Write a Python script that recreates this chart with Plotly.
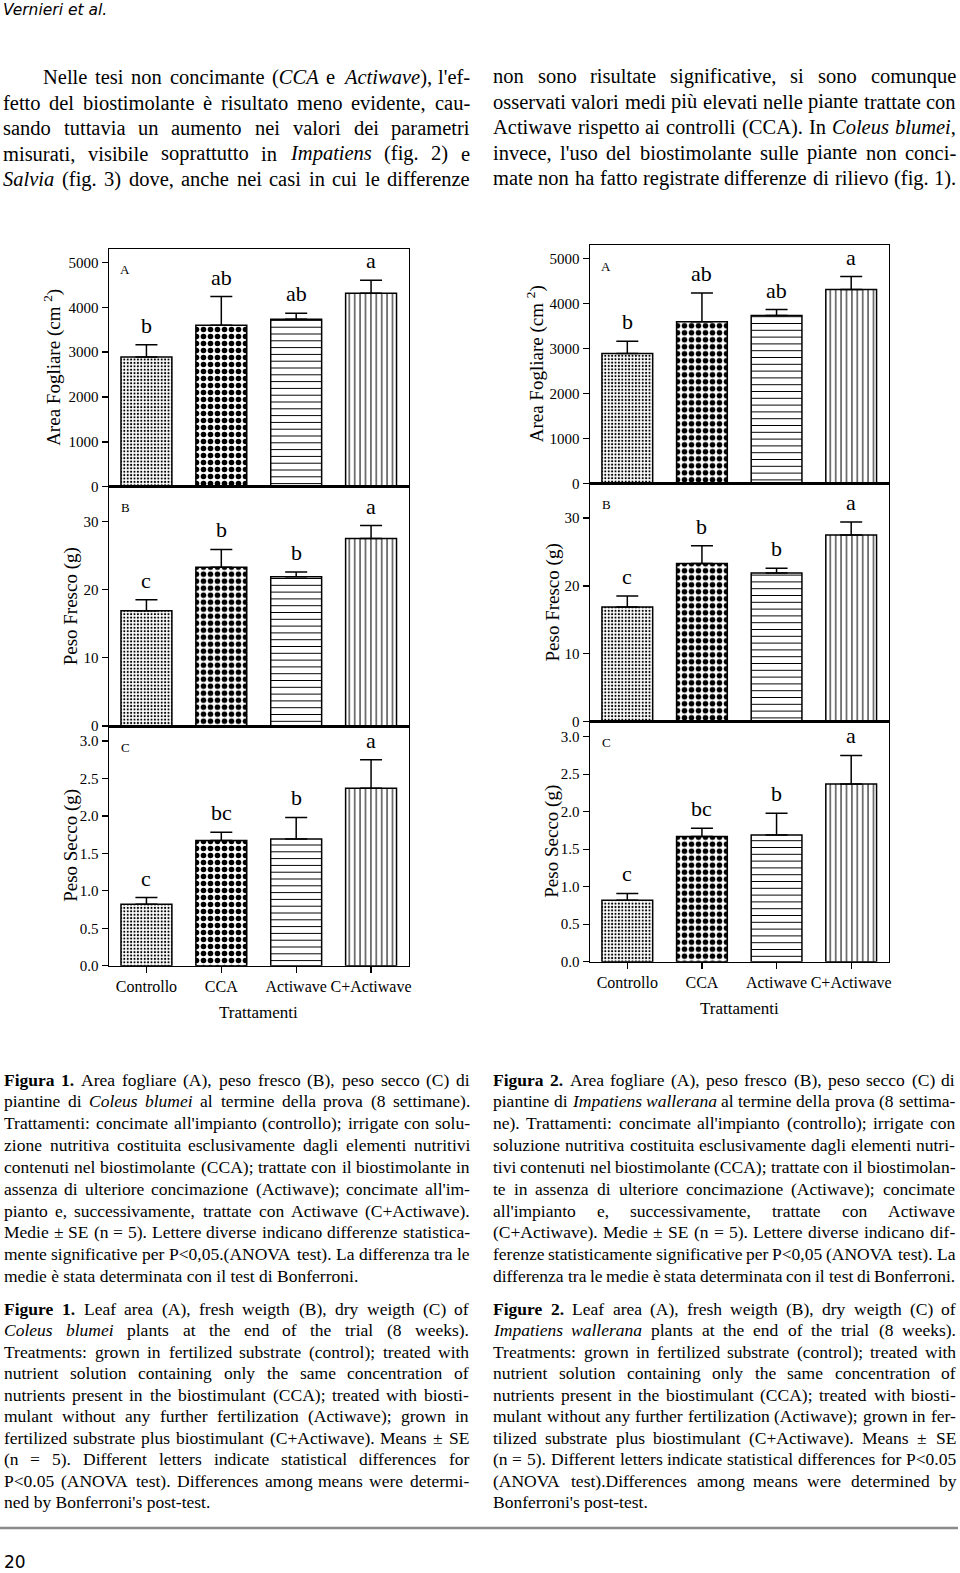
import plotly.graph_objects as go

W, H = 960, 1573

# ---------------- data ----------------
categories = ["Controllo", "CCA", "Actiwave", "C+Actiwave"]
leaf_area = [2890, 3600, 3735, 4315]
leaf_area_se = [275, 640, 135, 290]
fresh_weight = [16.9, 23.3, 21.9, 27.5]
fresh_weight_se = [1.6, 2.6, 0.7, 1.9]
dry_weight = [0.82, 1.67, 1.69, 2.37]
dry_weight_se = [0.09, 0.11, 0.29, 0.38]
letters_A = ["b", "ab", "ab", "a"]
letters_B = ["c", "b", "b", "a"]
letters_C = ["c", "bc", "b", "a"]
ticks_A = [0, 1000, 2000, 3000, 4000, 5000]
ticks_B = [0, 10, 20, 30]
ticks_C = [0.0, 0.5, 1.0, 1.5, 2.0, 2.5, 3.0]

header_text = "Vernieri et al."
page_number = "20"

para_left = [
    "Nelle tesi non concimante (<i>CCA</i> e <i>Actiwave</i>), l'ef-",
    "fetto del biostimolante è risultato meno evidente, cau-",
    "sando tuttavia un aumento nei valori dei parametri",
    "misurati, visibile soprattutto in <i>Impatiens</i> (fig. 2) e",
    "<i>Salvia</i> (fig. 3) dove, anche nei casi in cui le differenze",
]
para_right = [
    "non sono risultate significative, si sono comunque",
    "osservati valori medi più elevati nelle piante trattate con",
    "Actiwave rispetto ai controlli (CCA). In <i>Coleus blumei</i>,",
    "invece, l'uso del biostimolante sulle piante non conci-",
    "mate non ha fatto registrate differenze di rilievo (fig. 1).",
]
cap1_it = [
    "<b>Figura 1.</b> Area fogliare (A), peso fresco (B), peso secco (C) di",
    "piantine di <i>Coleus blumei</i> al termine della prova (8 settimane).",
    "Trattamenti: concimate all'impianto (controllo); irrigate con solu-",
    "zione nutritiva costituita esclusivamente dagli elementi nutritivi",
    "contenuti nel biostimolante (CCA); trattate con il biostimolante in",
    "assenza di ulteriore concimazione (Actiwave); concimate all'im-",
    "pianto e, successivamente, trattate con Actiwave (C+Actiwave).",
    "Medie ± SE (n = 5). Lettere diverse indicano differenze statistica-",
    "mente significative per P<0,05.(ANOVA test). La differenza tra le",
    "medie è stata determinata con il test di Bonferroni.",
]
cap1_en = [
    "<b>Figure 1.</b> Leaf area (A), fresh weigth (B), dry weigth (C) of",
    "<i>Coleus blumei</i> plants at the end of the trial (8 weeks).",
    "Treatments: grown in fertilized substrate (control); treated with",
    "nutrient solution containing only the same concentration of",
    "nutrients present in the biostimulant (CCA); treated with biosti-",
    "mulant without any further fertilization (Actiwave); grown in",
    "fertilized substrate plus biostimulant (C+Actiwave). Means ± SE",
    "(n = 5). Different letters indicate statistical differences for",
    "P<0.05 (ANOVA test). Differences among means were determi-",
    "ned by Bonferroni's post-test.",
]
cap2_it = [
    "<b>Figura 2.</b> Area fogliare (A), peso fresco (B), peso secco (C) di",
    "piantine di <i>Impatiens wallerana</i> al termine della prova (8 settima-",
    "ne). Trattamenti: concimate all'impianto (controllo); irrigate con",
    "soluzione nutritiva costituita esclusivamente dagli elementi nutri-",
    "tivi contenuti nel biostimolante (CCA); trattate con il biostimolan-",
    "te in assenza di ulteriore concimazione (Actiwave); concimate",
    "all'impianto e, successivamente, trattate con Actiwave",
    "(C+Actiwave). Medie ± SE (n = 5). Lettere diverse indicano dif-",
    "ferenze statisticamente significative per P<0,05 (ANOVA test). La",
    "differenza tra le medie è stata determinata con il test di Bonferroni.",
]
cap2_en = [
    "<b>Figure 2.</b> Leaf area (A), fresh weigth (B), dry weigth (C) of",
    "<i>Impatiens wallerana</i> plants at the end of the trial (8 weeks).",
    "Treatments: grown in fertilized substrate (control); treated with",
    "nutrient solution containing only the same concentration of",
    "nutrients present in the biostimulant (CCA); treated with biosti-",
    "mulant without any further fertilization (Actiwave); grown in fer-",
    "tilized substrate plus biostimulant (C+Actiwave). Means ± SE",
    "(n = 5). Different letters indicate statistical differences for P<0.05",
    "(ANOVA test).Differences among means were determined by",
    "Bonferroni's post-test.",
]

SERIF = "Liberation Serif"
SANS = "DejaVu Sans"

# ---------------- Times metrics (per 1000 em) ----------------
REG = {' ': 250, '!': 333, '"': 408, '%': 833, '&': 778, "'": 180, '(': 333, ')': 333,
       '+': 564, ',': 250, '-': 333, '.': 250, '/': 278, ':': 278, ';': 278, '<': 564,
       '=': 564, '>': 564, '?': 444, '±': 564,
       'A': 722, 'B': 667, 'C': 667, 'D': 722, 'E': 611, 'F': 556, 'G': 722, 'H': 722,
       'I': 333, 'J': 389, 'K': 722, 'L': 611, 'M': 889, 'N': 722, 'O': 722, 'P': 556,
       'Q': 722, 'R': 667, 'S': 556, 'T': 611, 'U': 722, 'V': 722, 'W': 944, 'X': 722,
       'Y': 722, 'Z': 611,
       'a': 444, 'b': 500, 'c': 444, 'd': 500, 'e': 444, 'f': 333, 'g': 500, 'h': 500,
       'i': 278, 'j': 278, 'k': 500, 'l': 278, 'm': 778, 'n': 500, 'o': 500, 'p': 500,
       'q': 500, 'r': 333, 's': 389, 't': 278, 'u': 500, 'v': 500, 'w': 722, 'x': 500,
       'y': 500, 'z': 444, 'è': 444, 'à': 444, 'ù': 500, 'ì': 278, 'ò': 500}
ITA = {'A': 611, 'C': 667, 'I': 333, 'S': 500, 'a': 500, 'b': 500, 'c': 444, 'e': 444,
       'i': 278, 'l': 278, 'm': 722, 'n': 500, 'o': 500, 'p': 500, 'r': 389, 's': 389,
       't': 278, 'u': 500, 'v': 444, 'w': 667, ',': 250, ')': 333}
BOLD = {'F': 611, 'i': 278, 'g': 500, 'u': 556, 'r': 444, 'a': 500, 'e': 444, '.': 250}


def char_w(ch, it, bd):
    if bd and ch in BOLD:
        return BOLD[ch]
    if it and ch in ITA:
        return ITA[ch]
    if ch.isdigit():
        return 500
    return REG.get(ch, 500)


def parse_line(line):
    state = {'i': False, 'b': False}
    words = []
    tags = (('<i>', 'i', True), ('</i>', 'i', False), ('<b>', 'b', True), ('</b>', 'b', False))
    for raw in line.split(' '):
        segs = []
        buf = ''
        i = 0
        while i < len(raw):
            matched = False
            for tag, key, val in tags:
                if raw.startswith(tag, i):
                    if buf:
                        segs.append((buf, state['i'], state['b']))
                        buf = ''
                    state[key] = val
                    i += len(tag)
                    matched = True
                    break
            if not matched:
                buf += raw[i]
                i += 1
        if buf:
            segs.append((buf, state['i'], state['b']))
        words.append(segs)
    return words


def esc(t):
    return t.replace('&', '&amp;').replace('<', '&lt;').replace('>', '&gt;')


def seg_markup(segs):
    out = ''
    for t, it, bd in segs:
        s = esc(t)
        if it:
            s = '<i>' + s + '</i>'
        if bd:
            s = '<b>' + s + '</b>'
        out += s
    return out


def seg_width(segs, size):
    return sum(char_w(c, it, bd) for t, it, bd in segs for c in t) * size / 1000.0


annotations = []


def px_ann(text, x, y, size, family=SERIF, xanchor='left', yanchor='middle', angle=0, color='black'):
    annotations.append(dict(text=text, x=x / W, y=1 - y / H, xref='paper', yref='paper',
                            xanchor=xanchor, yanchor=yanchor, showarrow=False, borderpad=0,
                            textangle=angle, font=dict(family=family, size=size, color=color)))


def text_block(lines, x0, x1, y0, dy, size, indent=0, last_natural=True):
    for idx, line in enumerate(lines):
        words = parse_line(line)
        y = y0 + idx * dy
        xs = x0 + (indent if idx == 0 else 0)
        widths = [seg_width(w, size) for w in words]
        natural_w = sum(widths) + 0.25 * size * (len(words) - 1)
        natural = last_natural and idx == len(lines) - 1 and natural_w < (x1 - xs) - 2
        if natural or len(words) < 2:
            px_ann(' '.join(seg_markup(w) for w in words), xs, y, size)
            continue
        gap = (x1 - xs - sum(widths)) / (len(words) - 1)
        x = xs
        for w, wd in zip(words, widths):
            px_ann(seg_markup(w), x, y, size)
            x += wd + gap


# ---------------- page text ----------------
px_ann('<i>' + header_text + '</i>', 2, 10, 15.5, family=SANS)
text_block(para_left, 2, 469, 77, 25.6, 20.5, indent=40, last_natural=False)
text_block(para_right, 492, 955, 76.5, 25.4, 20.5, last_natural=False)
text_block(cap1_it, 3, 469, 1079.5, 21.85, 17.5)
text_block(cap1_en, 3, 468, 1308.5, 21.5, 17.5)
text_block(cap2_it, 492, 954, 1079.5, 21.85, 17.5)
text_block(cap2_en, 492, 955, 1308.5, 21.5, 17.5)
px_ann(page_number, 3, 1562, 17, family=SANS)

# ---------------- charts ----------------
panels = [
    ("A", leaf_area, leaf_area_se, letters_A, ticks_A, [0, 5300], "Area Fogliare (cm <sup>2</sup>)", "d"),
    ("B", fresh_weight, fresh_weight_se, letters_B, ticks_B, [0, 35.1], "Peso Fresco (g)", "d"),
    ("C", dry_weight, dry_weight_se, letters_C, ticks_C, [0, 3.2], "Peso Secco (g)", ".1f"),
]
figs = [
    dict(x0=109, x1=408.5, yb=[249, 486.7, 726, 965.7], tx=[53, 71, 71]),
    dict(x0=590, x1=888.5, yb=[245.3, 483.3, 721.7, 961.7], tx=[535, 552, 552]),
]
pat_shape = [".", ".", "-", "|"]
pat_size = [3.4, 7, 6.8, 5.4]
pat_sol = [0.3, 0.5, 0.15, 0.19]

fig = go.Figure()
layout_axes = {}
n = 0
for f in figs:
    for k, (lab, vals, se, letters, ticks, rng, ytitle, fmt) in enumerate(panels):
        n += 1
        xs = 'x' if n == 1 else f'x{n}'
        ys = 'y' if n == 1 else f'y{n}'
        xa = 'xaxis' if n == 1 else f'xaxis{n}'
        ya = 'yaxis' if n == 1 else f'yaxis{n}'
        ytop, ybot = f['yb'][k], f['yb'][k + 1]
        layout_axes[xa] = dict(domain=[f['x0'] / W, f['x1'] / W], range=[-0.5, 3.5], anchor=ys,
                               type='category', categoryorder='array', categoryarray=categories,
                               showline=True, linecolor='black', linewidth=1.5, mirror=True,
                               showgrid=False, zeroline=False,
                               ticks='outside' if k == 2 else '', ticklen=6, tickwidth=1.3,
                               tickcolor='black', showticklabels=(k == 2),
                               tickfont=dict(family=SERIF, size=16, color='black'))
        layout_axes[ya] = dict(domain=[1 - ybot / H, 1 - ytop / H], range=rng, anchor=xs,
                               showline=True, linecolor='black', linewidth=1.5, mirror=True,
                               showgrid=False, zeroline=False, ticks='outside', ticklen=6,
                               tickwidth=1.3, tickcolor='black', tickvals=ticks, tickformat=fmt,
                               tickfont=dict(family=SERIF, size=15, color='black'))
        fig.add_trace(go.Bar(
            x=categories, y=vals, xaxis=xs, yaxis=ys, width=0.68, showlegend=False,
            hoverinfo='skip',
            marker=dict(color='white', line=dict(color='black', width=1.5),
                        pattern=dict(shape=pat_shape, size=pat_size, solidity=pat_sol,
                                     fgcolor='black', bgcolor='white', fillmode='replace')),
            error_y=dict(type='data', symmetric=False, array=se, arrayminus=[0] * len(se),
                         width=11, thickness=1.5, color='black'),
        ))
        for c, v, s, l in zip(categories, vals, se, letters):
            annotations.append(dict(text=l, x=c, y=v + s, xref=xs, yref=ys, showarrow=False,
                                    xanchor='center', yanchor='bottom', yshift=6, borderpad=0,
                                    font=dict(family=SERIF, size=22, color='black')))
        # panel letter
        px_ann(lab, f['x0'] + 16, ytop + 21, 13, xanchor='center')
        # y-axis title
        px_ann(ytitle, f['tx'][k], (ytop + ybot) / 2, 19, xanchor='center', angle=-90)
    # x-axis title
    px_ann("Trattamenti", (f['x0'] + f['x1']) / 2, f['yb'][3] + 47, 17, xanchor='center')

fig.update_layout(
    width=W, height=H, margin=dict(l=0, r=0, t=0, b=0, autoexpand=False),
    paper_bgcolor='white', plot_bgcolor='white', bargap=0.32,
    annotations=annotations,
    shapes=[dict(type='line', xref='paper', yref='paper', x0=0, x1=958 / W,
                 y0=1 - 1528 / H, y1=1 - 1528 / H, line=dict(color='#8a8a8a', width=2.5))],
    **layout_axes,
)

fig.write_html("out.html", config={'displayModeBar': False, 'staticPlot': True},
               post_script="document.body.style.margin='0';document.body.style.overflow='hidden';")
